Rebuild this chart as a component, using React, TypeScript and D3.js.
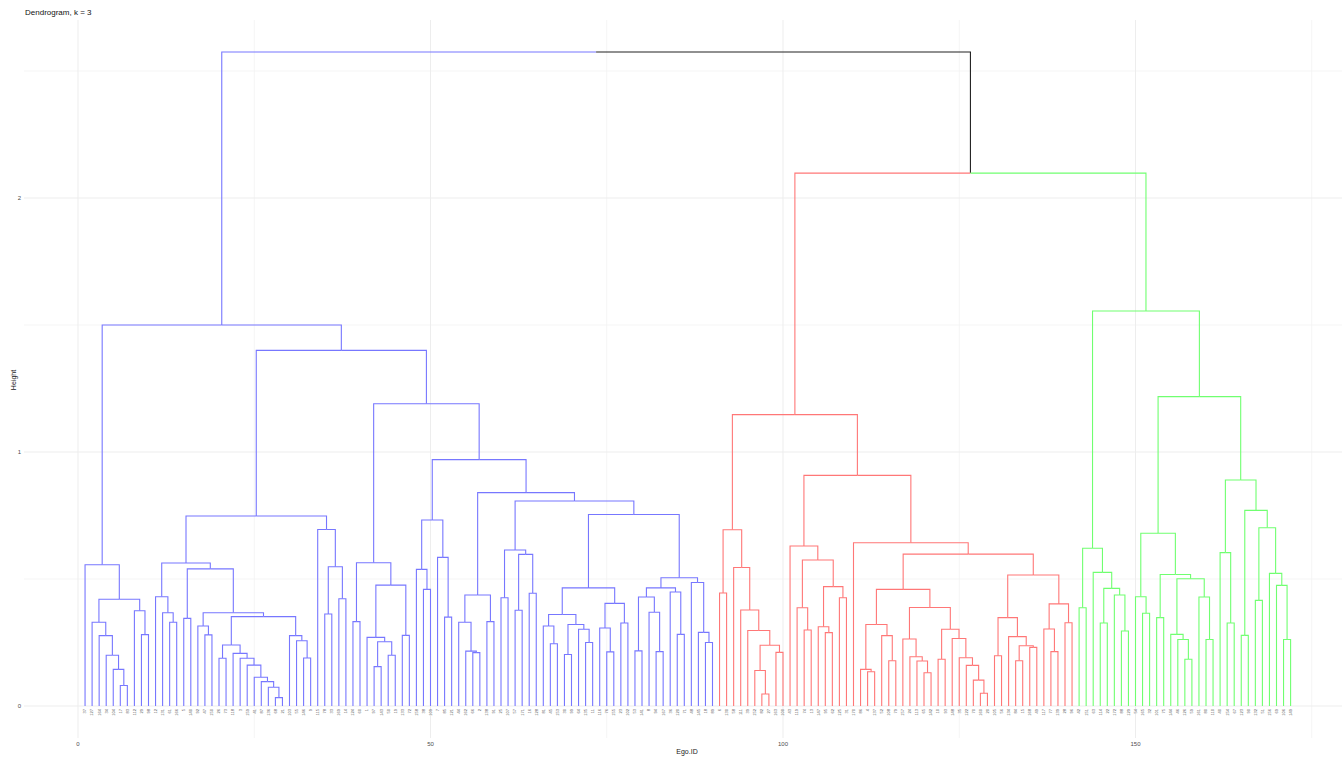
import React from "react";
import * as d3 from "d3";

type TreeNode = number | [number, TreeNode, TreeNode];

// Leaf labels (Ego IDs), in dendrogram order
const blueLabels = [
  "37","127","164","34","104","17","83","112","29","98",
  "12","131","61","166","5","140","92","47","150","26",
  "73","118","3","159","41","87","136","68","21","103",
  "55","146","9","115","78","33","169","14","124","60",
  "1","97","143","50","19","133","72","158","38","109",
  "7","85","121","44","162","66","2","138","91","25",
  "107","57","171","16","128","81","45","153","30","99",
  "64","135","11","116","76","155","23","102","53","141",
  "8","94","167","36","120","71","48","145","18","89",
];
const redLabels = [
  "6","130","58","111","39","152","82","27","163","100",
  "43","119","74","13","147","95","62","125","31","170",
  "86","4","137","52","108","79","157","24","113","65",
  "142","10","93","148","35","122","70","160","20","105",
  "56","134","84","15","168","49","117","77","139","28","96",
];
const greenLabels = [
  "42","151","63","114","22","172","88","129","54","165",
  "32","101","75","144","46","126","59","161","80","110",
  "40","154","67","123","90","132","51","156","69","106","149",
];
const leafLabels = [...blueLabels, ...redLabels, ...greenLabels];

// Subtrees: [height, left, right]; leaves are positions 1..172
const treeK: TreeNode = [0.556, 1, [0.42, [0.33, 2, [0.277, 3, [0.2, 4, [0.144, 5, [0.081, 6, 7]]]]], [0.375, 8, [0.281, 9, 10]]]];
const treeA: TreeNode = [0.43, 11, [0.367, 12, [0.33, 13, 14]]];
const treeB: TreeNode = [0.54, [0.345, 15, 16], [0.367, [0.315, 17, [0.28, 18, 19]], [0.352, [0.24, [0.188, 20, 21], [0.207, 22, [0.188, 23, [0.161, 24, [0.113, 25, [0.096, 26, [0.074, 27, [0.033, 28, 29]]]]]]]], [0.277, 30, [0.257, 31, [0.189, 32, 33]]]]]];
const treeC: TreeNode = [0.695, 34, [0.548, [0.362, 35, 36], [0.422, 37, 38]]];
const treeD: TreeNode = [0.748, [0.563, treeA, treeB], treeC];
const treeE: TreeNode = [0.564, [0.332, 39, 40], [0.476, [0.27, 41, [0.253, [0.155, 42, 43], [0.2, 44, 45]]], [0.278, 46, 47]]];
const treeF: TreeNode = [0.732, [0.538, 48, [0.459, 49, 50]], [0.585, 51, [0.35, 52, 53]]];
const treeG: TreeNode = [0.437, [0.33, 54, [0.216, 55, [0.21, 56, 57]]], [0.332, 58, 59]];
const treeH: TreeNode = [0.614, [0.426, 60, 61], [0.597, [0.377, 62, 63], [0.444, 64, 65]]];
const treeI: TreeNode = [0.465, [0.36, [0.315, 66, [0.245, 67, 68]], [0.321, [0.203, 69, 70], [0.302, 71, [0.25, 72, 73]]]], [0.404, [0.307, 74, [0.213, 75, 76]], [0.327, 77, 78]]];
const treeJ: TreeNode = [0.505, [0.465, [0.429, [0.217, 79, 80], [0.369, 81, [0.214, 82, 83]]], [0.449, 84, [0.282, 85, 86]]], [0.486, 87, [0.29, 88, [0.25, 89, 90]]]];
const blueTree: TreeNode = [1.5, treeK, [1.4, treeD, [1.19, treeE, [0.97, treeF, [0.84, treeG, [0.807, treeH, [0.754, treeI, treeJ]]]]]]];

const treeL: TreeNode = [0.694, [0.445, 91, 92], [0.545, 93, [0.378, 94, [0.297, 95, [0.239, [0.14, 96, [0.047, 97, 98]], [0.211, 99, 100]]]]]];
const treeM: TreeNode = [0.63, 101, [0.575, [0.387, 102, [0.299, 103, 104]], [0.47, [0.312, 105, [0.289, 106, 107]], [0.426, 108, 109]]]];
const treeNL: TreeNode = [0.459, [0.321, [0.144, 111, [0.135, 112, 113]], [0.277, 114, [0.178, 115, 116]]], [0.388, [0.264, 117, [0.194, 118, [0.177, 119, [0.131, 120, 121]]]], [0.302, [0.184, 122, 123], [0.266, 124, [0.19, 125, [0.16, 126, [0.102, 127, [0.05, 128, 129]]]]]]]];
const treeNR: TreeNode = [0.516, [0.348, [0.198, 130, 131], [0.273, 132, [0.237, [0.178, 133, 134], [0.231, 135, 136]]]], [0.402, [0.303, 137, [0.214, 138, 139]], [0.328, 140, 141]]];
const redTree: TreeNode = [1.147, treeL, [0.908, treeM, [0.643, 110, [0.598, treeNL, treeNR]]]];

const treeO: TreeNode = [0.621, [0.387, 142, 143], [0.526, 144, [0.463, [0.327, 145, 146], [0.437, 147, [0.295, 148, 149]]]]];
const treeP1: TreeNode = [0.68, [0.43, 150, [0.365, 151, 152]], [0.518, [0.348, 153, 154], [0.501, [0.282, 155, [0.262, 156, [0.184, 157, 158]]], [0.429, 159, [0.262, 160, 161]]]]];
const treeP2: TreeNode = [0.89, [0.604, 162, [0.327, 163, 164]], [0.77, [0.278, 165, 166], [0.702, [0.416, 167, 168], [0.522, 169, [0.475, 170, [0.262, 171, 172]]]]]];
const greenTree: TreeNode = [1.555, treeO, [1.218, treeP1, treeP2]];

const rootTree: TreeNode = [2.575, blueTree, [2.098, redTree, greenTree]];

const clusterColors = ["#7777ff", "#ff7777", "#70ff70"];
const clusterRoots: TreeNode[] = [blueTree, redTree, greenTree];

const xMajor = [0, 50, 100, 150];
const xMinor = [25, 75, 125, 175];
const yMajor = [0, 1, 2];
const yMinor = [0.5, 1.5, 2.5];

const W = 1342;
const H = 759;
const panel = { left: 24, right: 1342, top: 20, bottom: 738 };

const xScale = d3.scaleLinear().domain([0, 175]).range([78, 78 + 7.05 * 175]);
const yScale = d3.scaleLinear().domain([0, 2.5]).range([706, 706 - 254 * 2.5]);

type Pos = { x: number; h: number };

function layout(n: TreeNode, cache: Map<TreeNode, Pos>): Pos {
  if (typeof n === "number") return { x: n, h: 0 };
  const c = cache.get(n);
  if (c) return c;
  const l = layout(n[1], cache);
  const r = layout(n[2], cache);
  const p = { x: (l.x + r.x) / 2, h: n[0] };
  cache.set(n, p);
  return p;
}

type Seg = { d: string; color: string };

function collect(n: TreeNode, cache: Map<TreeNode, Pos>, color: string, segs: Seg[]) {
  if (typeof n === "number") return;
  const p = layout(n, cache);
  for (const child of [n[1], n[2]]) {
    const ci = clusterRoots.indexOf(child);
    const cc = ci >= 0 ? clusterColors[ci] : color;
    const cp = layout(child, cache);
    segs.push({
      d: `M${xScale(cp.x)},${yScale(cp.h)}V${yScale(p.h)}H${xScale(p.x)}`,
      color: cc,
    });
    collect(child, cache, cc, segs);
  }
}

export default function App() {
  const cache = new Map<TreeNode, Pos>();
  const segs: Seg[] = [];
  collect(rootTree, cache, "#222222", segs);
  const font = "'Liberation Sans', Arial, sans-serif";

  return (
    <svg
      width={W}
      height={H}
      style={{ position: "absolute", left: 0, top: 0, display: "block", background: "#ffffff" }}
      fontFamily={font}
    >
      <rect x={0} y={0} width={W} height={H} fill="#ffffff" />
      {/* grid */}
      {yMinor.map((v) => (
        <line key={"ym" + v} x1={panel.left} x2={panel.right} y1={yScale(v)} y2={yScale(v)} stroke="#f3f3f3" strokeWidth={0.8} />
      ))}
      {xMinor.map((v) => (
        <line key={"xm" + v} x1={xScale(v)} x2={xScale(v)} y1={panel.top} y2={panel.bottom} stroke="#f3f3f3" strokeWidth={0.8} />
      ))}
      {yMajor.map((v) => (
        <line key={"yM" + v} x1={panel.left} x2={panel.right} y1={yScale(v)} y2={yScale(v)} stroke="#ededed" strokeWidth={1} />
      ))}
      {xMajor.map((v) => (
        <line key={"xM" + v} x1={xScale(v)} x2={xScale(v)} y1={panel.top} y2={panel.bottom} stroke="#ededed" strokeWidth={1} />
      ))}
      {/* dendrogram */}
      <g fill="none" strokeWidth={1.1}>
        {segs.map((s, i) => (
          <path key={i} d={s.d} stroke={s.color} />
        ))}
      </g>
      {/* leaf labels */}
      <g fontSize={4} fill="#555555">
        {leafLabels.map((lab, i) => {
          const x = xScale(i + 1);
          const y = 709;
          return (
            <text key={i} x={x} y={y} dy="0.35em" textAnchor="end" transform={`rotate(-90 ${x} ${y})`}>
              {lab}
            </text>
          );
        })}
      </g>
      {/* y axis ticks */}
      {yMajor.map((v) => (
        <text key={"yt" + v} x={21} y={yScale(v)} dy="0.35em" textAnchor="end" fontSize={6} fill="#4d4d4d">
          {v}
        </text>
      ))}
      {/* x axis ticks */}
      {xMajor.map((v) => (
        <text key={"xt" + v} x={xScale(v)} y={744} dy="0.35em" textAnchor="middle" fontSize={6} fill="#4d4d4d">
          {v}
        </text>
      ))}
      <text x={687} y={752} dy="0.35em" textAnchor="middle" fontSize={7} fill="#222222">
        Ego.ID
      </text>
      <text x={14} y={380} dy="0.35em" textAnchor="middle" fontSize={7} fill="#222222" transform="rotate(-90 14 380)">
        Height
      </text>
      <text x={25} y={12} dy="0.35em" fontSize={8} fill="#111111">
        Dendrogram, k = 3
      </text>
    </svg>
  );
}
